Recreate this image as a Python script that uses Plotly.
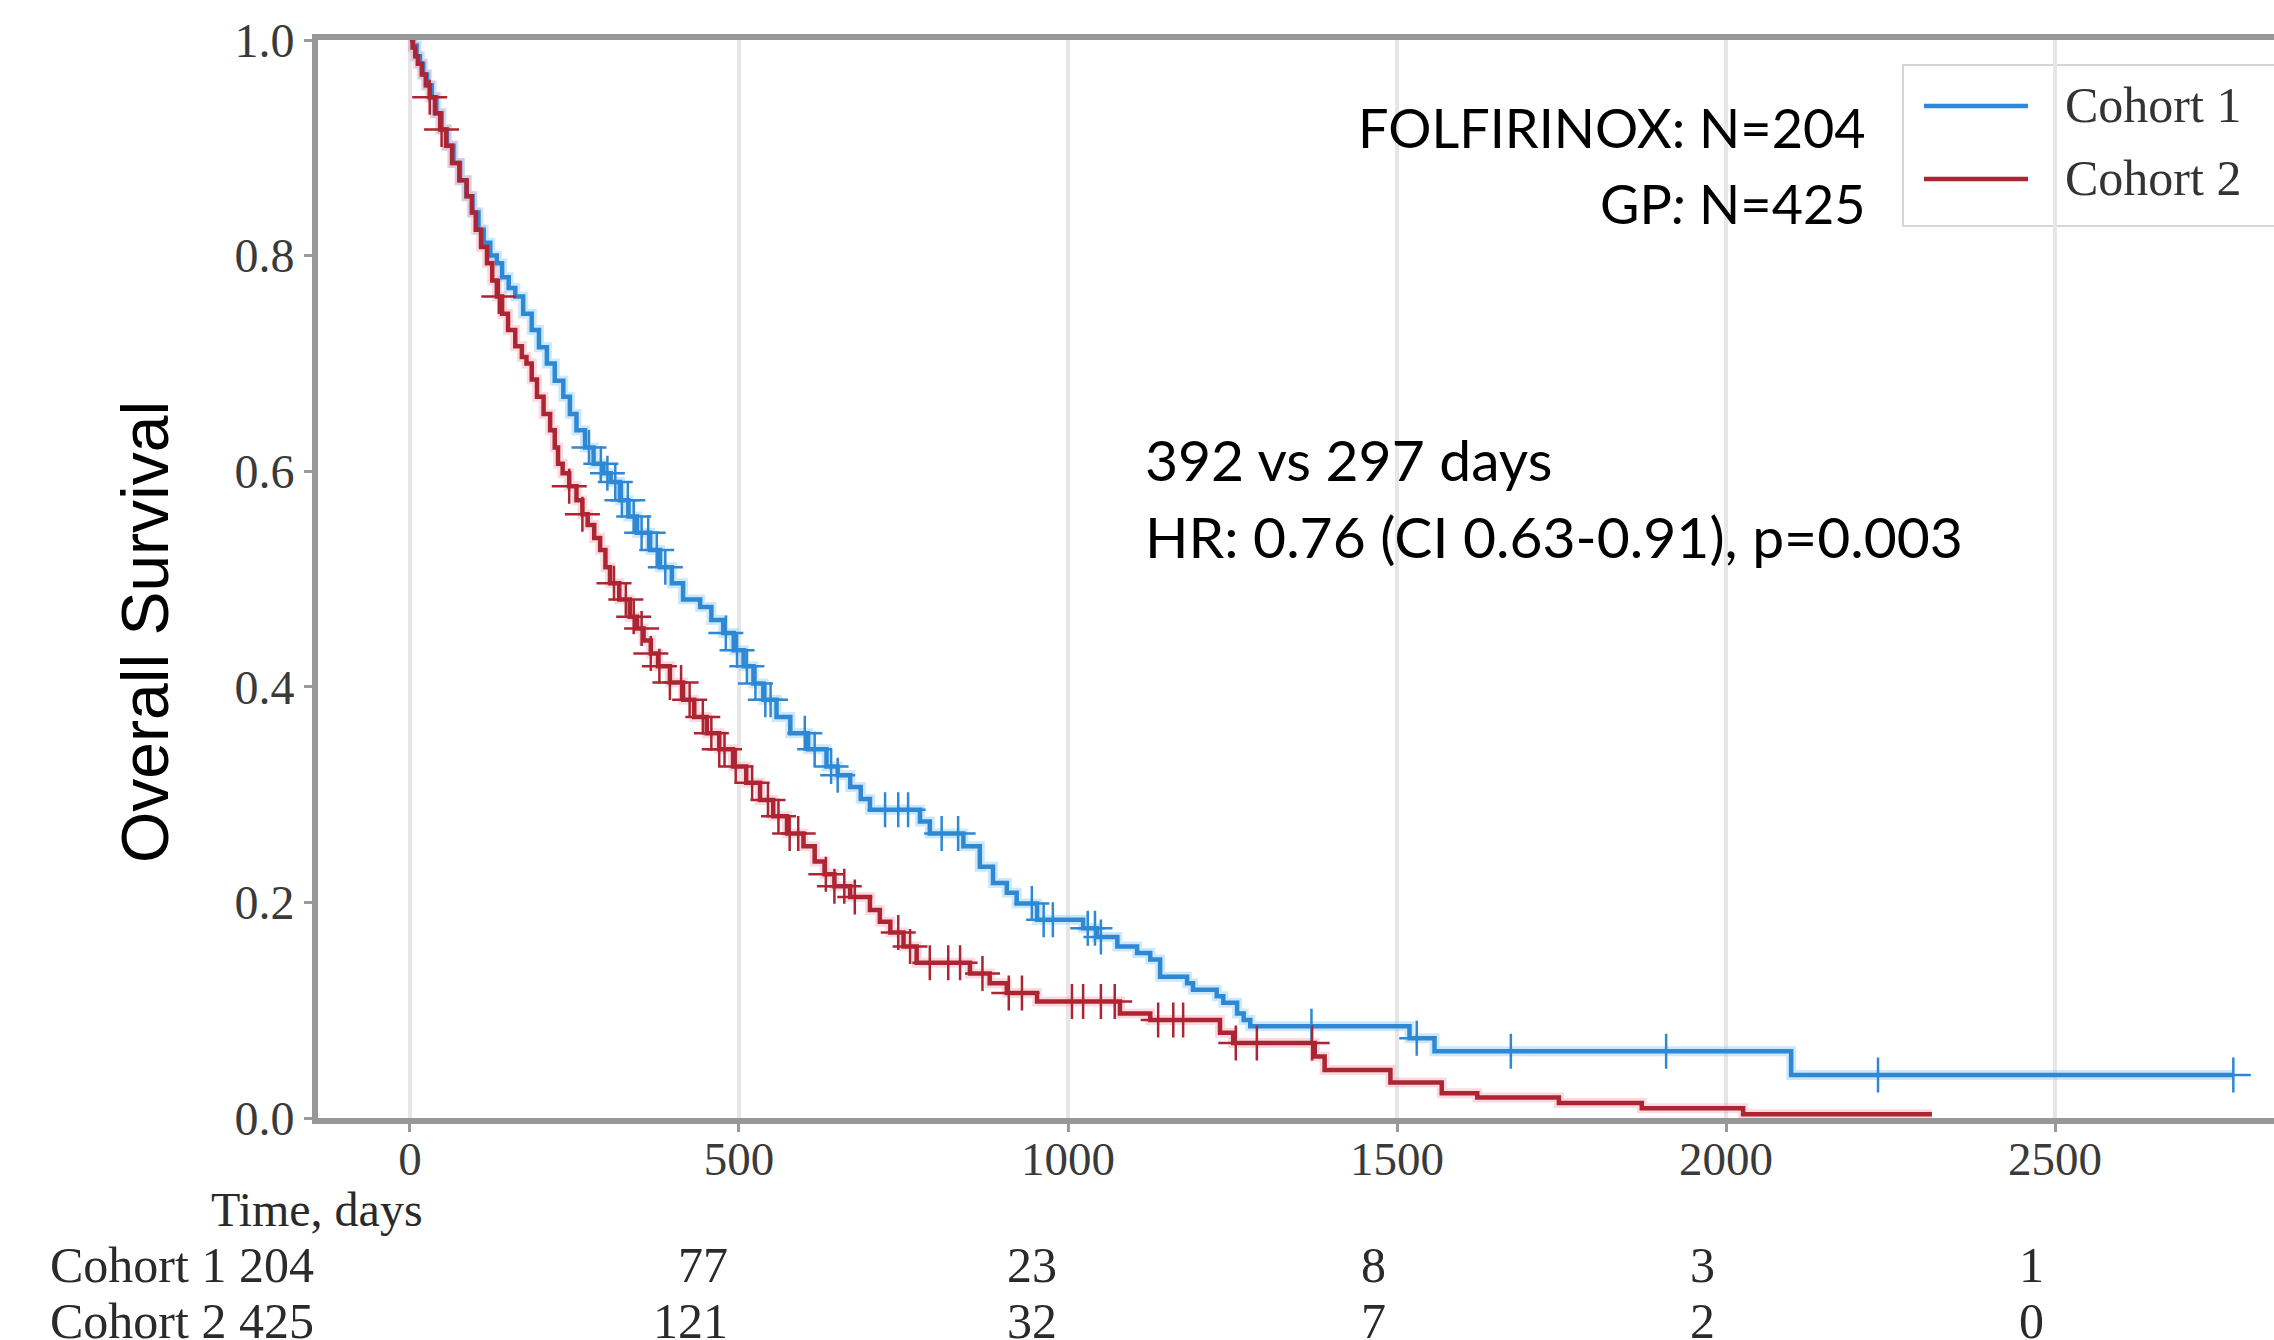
import bisect
import plotly.graph_objects as go

# ---------------- data ----------------
cohort_names = ["Cohort 1", "Cohort 2"]

# Cohort 1 (FOLFIRINOX) Kaplan-Meier steps: time (days) -> survival after that time
c1_times = [0, 5, 10, 15, 20, 26, 33, 40, 48, 56, 66, 76, 86, 95, 104, 112, 122, 132,
            140, 150, 160, 172, 185, 196, 208, 220, 233, 243, 253, 266, 279, 294, 305,
            319, 332, 345, 365, 380, 398, 415, 441, 458, 476, 492, 507, 522, 537, 557,
            578, 605, 633, 650, 669, 685, 699, 775, 790, 841, 866, 886, 907, 922, 953,
            1023, 1044, 1075, 1105, 1125, 1140, 1181, 1190, 1226, 1236, 1257, 1267, 1277,
            1519, 1557, 2099, 2771]
c1_surv = [1.000, 0.995, 0.985, 0.978, 0.968, 0.958, 0.947, 0.932, 0.917, 0.902, 0.886,
           0.870, 0.855, 0.840, 0.824, 0.812, 0.800, 0.793, 0.780, 0.770, 0.762, 0.746,
           0.731, 0.715, 0.700, 0.684, 0.669, 0.653, 0.638, 0.622, 0.607, 0.598, 0.590,
           0.573, 0.558, 0.543, 0.527, 0.511, 0.496, 0.481, 0.474, 0.462, 0.450, 0.434,
           0.419, 0.403, 0.388, 0.372, 0.357, 0.342, 0.326, 0.318, 0.307, 0.296, 0.286,
           0.275, 0.264, 0.252, 0.233, 0.218, 0.209, 0.199, 0.184, 0.176, 0.168, 0.159,
           0.153, 0.147, 0.131, 0.125, 0.119, 0.113, 0.107, 0.097, 0.091, 0.085, 0.074,
           0.062, 0.040, 0.040]

# Cohort 2 (GP)
c2_times = [0, 4, 8, 12, 18, 24, 30, 38, 46, 55, 64, 75, 86, 94, 100, 108, 117, 125, 132,
            140, 149, 160, 170, 177, 185, 193, 203, 213, 220, 225, 232, 242, 253, 262, 270,
            280, 289, 297, 304, 318, 334, 345, 355, 366, 377, 395, 415, 432, 451, 470, 491,
            511, 532, 552, 573, 598, 615, 630, 645, 669, 699, 714, 730, 750, 770, 851, 881,
            907, 953, 1079, 1125, 1231, 1251, 1375, 1390, 1490, 1568, 1622, 1746, 1872,
            2026, 2313]
c2_surv = [1.000, 0.993, 0.985, 0.978, 0.968, 0.958, 0.947, 0.932, 0.917, 0.902, 0.886,
           0.870, 0.855, 0.840, 0.824, 0.808, 0.793, 0.777, 0.762, 0.746, 0.731, 0.716,
           0.706, 0.700, 0.685, 0.669, 0.653, 0.638, 0.622, 0.607, 0.598, 0.586, 0.573,
           0.560, 0.550, 0.538, 0.527, 0.511, 0.496, 0.481, 0.465, 0.454, 0.443, 0.431,
           0.419, 0.404, 0.388, 0.372, 0.357, 0.342, 0.326, 0.311, 0.295, 0.280, 0.264,
           0.252, 0.238, 0.226, 0.215, 0.205, 0.193, 0.182, 0.172, 0.159, 0.144, 0.134,
           0.125, 0.116, 0.108, 0.097, 0.091, 0.079, 0.0696, 0.057, 0.0445, 0.033, 0.023,
           0.019, 0.014, 0.009, 0.0035, 0.0035]

# censoring times ("+" marks)
c1_censor = [272, 290, 300, 312, 322, 331, 340, 352, 362, 375, 388, 480, 497, 512, 525,
             540, 548, 600, 615, 640, 650, 722, 742, 757, 808, 833, 945, 963, 977, 1030,
             1041, 1050, 1370, 1530, 1673, 1909, 2231, 2771]
c2_censor = [30, 48, 135, 242, 262, 310, 328, 340, 352, 366, 379, 395, 412, 425, 445,
             458, 470, 478, 495, 520, 544, 560, 577, 590, 632, 645, 660, 676, 742, 760,
             790, 818, 836, 870, 910, 930, 1006, 1023, 1050, 1071, 1137, 1160, 1175, 1255,
             1287, 1371]

# numbers at risk
risk_times = [0, 500, 1000, 1500, 2000, 2500]
risk_c1 = [204, 77, 23, 8, 3, 1]
risk_c2 = [425, 121, 32, 7, 2, 0]

x_ticks = [0, 500, 1000, 1500, 2000, 2500]
y_ticks = [0.0, 0.2, 0.4, 0.6, 0.8, 1.0]
y_tick_labels = ["0.0", "0.2", "0.4", "0.6", "0.8", "1.0"]

group_text = ["FOLFIRINOX: N=204", "GP<i>:</i> N=425"]
stat_text = ["392 vs 297 days", "HR: 0.76 (CI 0.63-0.91), p=0.003"]

# ---------------- styling / geometry ----------------
W, H = 2274, 1340
PL, PR, PT, PB = 318, 2274, 40, 1118          # plot-area pixel box
X_RANGE = [-139.8, 2832.8]

BLUE = "#2f88d4"
RED = "#ad2432"
BLUE_HALO = "rgba(140,205,250,0.45)"
RED_HALO = "rgba(240,150,165,0.35)"
SERIF = "Liberation Serif"
SANS = "Lato"
TICK_COLOR = "#3a3a3a"


def px(X):
    return (X - PL) / (PR - PL)


def py(Y):
    return (PB - Y) / (PB - PT)


def step_value(times, surv, t):
    i = bisect.bisect_right(times, t) - 1
    return surv[max(i, 0)]


fig = go.Figure()

series = [
    (c1_times, c1_surv, c1_censor, BLUE, BLUE_HALO, cohort_names[0]),
    (c2_times, c2_surv, c2_censor, RED, RED_HALO, cohort_names[1]),
]
for times, surv, cens, col, halo, name in series:
    fig.add_trace(go.Scatter(x=times, y=surv, mode="lines", line_shape="hv",
                             line=dict(color=halo, width=10), hoverinfo="skip",
                             showlegend=False))
for times, surv, cens, col, halo, name in series:
    fig.add_trace(go.Scatter(x=times, y=surv, mode="lines", line_shape="hv",
                             line=dict(color=col, width=4.5), name=name,
                             showlegend=False))
    fig.add_trace(go.Scatter(x=cens, y=[step_value(times, surv, t) for t in cens],
                             mode="markers", name=name + " censored",
                             marker=dict(symbol="cross-thin", size=25, color=col,
                                         line=dict(width=2.5, color=col)),
                             showlegend=False))

shapes = []
# white text-box backgrounds (they interrupt the gridlines in the reference)
for (x0, x1, y0, y1) in [(1340, 1890, 75, 252), (1125, 2100, 409, 584)]:
    shapes.append(dict(type="rect", xref="paper", yref="paper", layer="between",
                       x0=px(x0), x1=px(x1), y0=py(y1), y1=py(y0),
                       fillcolor="white", line=dict(width=0)))
# legend frame (cut off by the right edge like the reference)
shapes.append(dict(type="rect", xref="paper", yref="paper", layer="between",
                   x0=px(1903), x1=px(2300), y0=py(226), y1=py(65),
                   fillcolor="rgba(255,255,255,0.8)", line=dict(color="#d6d6d6", width=2)))
for col, Y in [(BLUE, 106), (RED, 179)]:
    shapes.append(dict(type="line", xref="paper", yref="paper", layer="above",
                       x0=px(1924), x1=px(2028), y0=py(Y), y1=py(Y),
                       line=dict(color=col, width=4.5)))

ann = []
# legend labels
for name, Y in zip(cohort_names, [105, 178]):
    ann.append(dict(text=name, x=px(2064), y=py(Y), xref="paper", yref="paper",
                    xanchor="left", yanchor="middle", showarrow=False, borderpad=0,
                    font=dict(family=SERIF, size=50, color="#333333")))
# group sizes (right aligned)
for txt, Y in zip(group_text, [127, 203]):
    ann.append(dict(text=txt, x=px(1867), y=py(Y), xref="paper", yref="paper",
                    xanchor="right", yanchor="middle", showarrow=False, borderpad=0,
                    font=dict(family=SANS, size=54, color="black")))
# median / HR text (left aligned)
for txt, Y in zip(stat_text, [459, 536]):
    ann.append(dict(text=txt, x=px(1144), y=py(Y), xref="paper", yref="paper",
                    xanchor="left", yanchor="middle", showarrow=False, borderpad=0,
                    font=dict(family=SANS, size=57, color="black")))
# y-axis title
ann.append(dict(text="Overall Survival", x=px(145), y=py(632), xref="paper", yref="paper",
                xanchor="center", yanchor="middle", textangle=-90, showarrow=False,
                font=dict(family="Liberation Sans", size=66, color="black")))
# x-axis label
ann.append(dict(text="Time, days", x=px(317), y=py(1209), xref="paper", yref="paper",
                xanchor="center", yanchor="middle", showarrow=False, borderpad=0,
                font=dict(family=SERIF, size=48, color="#2a2a2a")))
# at-risk table
for name, counts, Y in [(cohort_names[0], risk_c1, 1265), (cohort_names[1], risk_c2, 1321)]:
    ann.append(dict(text=f"{name} {counts[0]}", x=px(315), y=py(Y), xref="paper",
                    yref="paper", xanchor="right", yanchor="middle", showarrow=False,
                    borderpad=0, font=dict(family=SERIF, size=50, color="#2a2a2a")))
    for t, n in zip(risk_times[1:], counts[1:]):
        ann.append(dict(text=str(n), x=t, y=py(Y), xref="x", yref="paper",
                        xanchor="right", yanchor="middle", xshift=-10, showarrow=False,
                        borderpad=0, font=dict(family=SERIF, size=50, color="#2a2a2a")))

fig.update_layout(
    width=W, height=H,
    margin=dict(l=PL, r=W - PR, t=PT, b=H - PB, autoexpand=False),
    paper_bgcolor="white", plot_bgcolor="white",
    showlegend=False,
    shapes=shapes, annotations=ann,
    xaxis=dict(range=X_RANGE, tickvals=x_ticks, ticktext=[str(v) for v in x_ticks],
               ticks="outside", ticklen=8, tickwidth=3, tickcolor="#9a9a9a",
               ticklabelstandoff=-13,
               showgrid=True, gridcolor="#e6e6e6", gridwidth=4, zeroline=False,
               showline=True, linecolor="#979797", linewidth=6, mirror=True,
               tickfont=dict(family=SERIF, size=47, color=TICK_COLOR)),
    yaxis=dict(range=[0, 1], tickvals=y_ticks, ticktext=y_tick_labels,
               ticks="outside", ticklen=8, tickwidth=3, tickcolor="#9a9a9a",
               showgrid=False, zeroline=False,
               showline=True, linecolor="#979797", linewidth=6, mirror=False,
               tickfont=dict(family=SERIF, size=48, color=TICK_COLOR)),
)

fig.write_html("out.html", config={"displayModeBar": False},
               post_script="document.body.style.margin='0';document.body.style.overflow='hidden';")
